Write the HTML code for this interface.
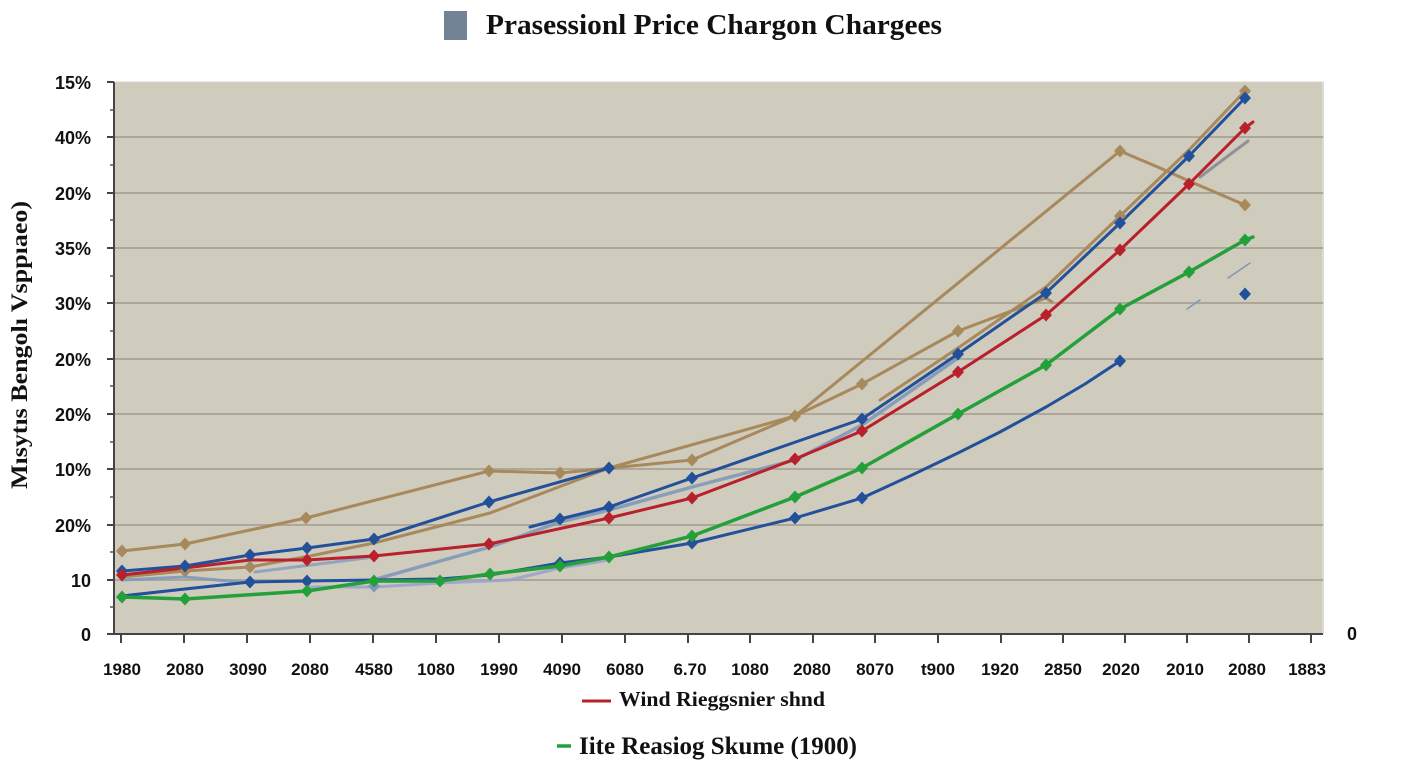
<!DOCTYPE html>
<html>
<head>
<meta charset="utf-8">
<style>
html,body{margin:0;padding:0;background:#fff;}
svg{display:block;}
.yl{font-family:"Liberation Sans",sans-serif;font-weight:bold;font-size:18px;fill:#111;text-anchor:end;}
.xl{font-family:"Liberation Sans",sans-serif;font-weight:bold;font-size:17px;fill:#111;text-anchor:middle;}
.ser{font-family:"Liberation Serif",serif;font-weight:bold;fill:#111;}
</style>
</head>
<body>
<svg width="1408" height="768" viewBox="0 0 1408 768" xmlns="http://www.w3.org/2000/svg">
<defs>
<path id="dm" d="M0,-6.5 L6,0 L0,6.5 L-6,0Z"/>
</defs>
<rect x="0" y="0" width="1408" height="768" fill="#ffffff"/>

<!-- title -->
<rect x="444" y="11" width="23" height="29" fill="#718395"/>
<text class="ser" x="486" y="34" font-size="29" textLength="456" lengthAdjust="spacingAndGlyphs">Prasessionl Price Chargon Chargees</text>

<!-- plot background -->
<rect x="114" y="82" width="1209" height="552" fill="#cfcbbd"/>
<line x1="1323" y1="82" x2="1323" y2="634" stroke="#dedbd1" stroke-width="2"/>
<line x1="114" y1="82" x2="1323" y2="82" stroke="#d8d5ca" stroke-width="1"/>

<!-- gridlines -->
<g stroke="#aca79a" stroke-width="2">
<line x1="114" y1="137" x2="1323" y2="137"/>
<line x1="114" y1="193" x2="1323" y2="193"/>
<line x1="114" y1="248" x2="1323" y2="248"/>
<line x1="114" y1="303" x2="1323" y2="303"/>
<line x1="114" y1="359" x2="1323" y2="359"/>
<line x1="114" y1="414" x2="1323" y2="414"/>
<line x1="114" y1="469" x2="1323" y2="469"/>
<line x1="114" y1="525" x2="1323" y2="525"/>
<line x1="114" y1="580" x2="1323" y2="580"/>
</g>

<!-- axes -->
<line x1="114" y1="82" x2="114" y2="635" stroke="#444" stroke-width="2"/>
<line x1="113" y1="634" x2="1323" y2="634" stroke="#444" stroke-width="2"/>
<g stroke="#444" stroke-width="2">
<line x1="107" y1="82" x2="114" y2="82"/>
<line x1="107" y1="137" x2="114" y2="137"/>
<line x1="107" y1="193" x2="114" y2="193"/>
<line x1="107" y1="248" x2="114" y2="248"/>
<line x1="107" y1="303" x2="114" y2="303"/>
<line x1="107" y1="359" x2="114" y2="359"/>
<line x1="107" y1="414" x2="114" y2="414"/>
<line x1="107" y1="469" x2="114" y2="469"/>
<line x1="107" y1="525" x2="114" y2="525"/>
<line x1="107" y1="580" x2="114" y2="580"/>
<line x1="107" y1="634" x2="114" y2="634"/>
</g>
<g stroke="#555" stroke-width="1.5">
<line x1="110" y1="110" x2="114" y2="110"/>
<line x1="110" y1="165" x2="114" y2="165"/>
<line x1="110" y1="220" x2="114" y2="220"/>
<line x1="110" y1="276" x2="114" y2="276"/>
<line x1="110" y1="331" x2="114" y2="331"/>
<line x1="110" y1="386" x2="114" y2="386"/>
<line x1="110" y1="442" x2="114" y2="442"/>
<line x1="110" y1="497" x2="114" y2="497"/>
<line x1="110" y1="552" x2="114" y2="552"/>
<line x1="110" y1="607" x2="114" y2="607"/>
</g>
<g stroke="#444" stroke-width="2">
<line x1="121" y1="634" x2="121" y2="643"/>
<line x1="184" y1="634" x2="184" y2="643"/>
<line x1="247" y1="634" x2="247" y2="643"/>
<line x1="310" y1="634" x2="310" y2="643"/>
<line x1="373" y1="634" x2="373" y2="643"/>
<line x1="436" y1="634" x2="436" y2="643"/>
<line x1="499" y1="634" x2="499" y2="643"/>
<line x1="562" y1="634" x2="562" y2="643"/>
<line x1="625" y1="634" x2="625" y2="643"/>
<line x1="688" y1="634" x2="688" y2="643"/>
<line x1="750" y1="634" x2="750" y2="643"/>
<line x1="813" y1="634" x2="813" y2="643"/>
<line x1="875" y1="634" x2="875" y2="643"/>
<line x1="938" y1="634" x2="938" y2="643"/>
<line x1="1001" y1="634" x2="1001" y2="643"/>
<line x1="1063" y1="634" x2="1063" y2="643"/>
<line x1="1125" y1="634" x2="1125" y2="643"/>
<line x1="1187" y1="634" x2="1187" y2="643"/>
<line x1="1249" y1="634" x2="1249" y2="643"/>
<line x1="1311" y1="634" x2="1311" y2="643"/>
</g>

<!-- y labels -->
<text class="yl" x="91" y="89">15%</text>
<text class="yl" x="91" y="144">40%</text>
<text class="yl" x="91" y="200">20%</text>
<text class="yl" x="91" y="255">35%</text>
<text class="yl" x="91" y="310">30%</text>
<text class="yl" x="91" y="366">20%</text>
<text class="yl" x="91" y="421">20%</text>
<text class="yl" x="91" y="476">10%</text>
<text class="yl" x="91" y="532">20%</text>
<text class="yl" x="91" y="587">10</text>
<text class="yl" x="91" y="641">0</text>
<text class="yl" x="1357" y="640">0</text>

<!-- x labels -->
<g class="xl">
<text x="122" y="675">1980</text>
<text x="185" y="675">2080</text>
<text x="248" y="675">3090</text>
<text x="310" y="675">2080</text>
<text x="374" y="675">4580</text>
<text x="436" y="675">1080</text>
<text x="499" y="675">1990</text>
<text x="562" y="675">4090</text>
<text x="625" y="675">6080</text>
<text x="690" y="675">6.70</text>
<text x="750" y="675">1080</text>
<text x="812" y="675">2080</text>
<text x="875" y="675">8070</text>
<text x="938" y="675">t900</text>
<text x="1000" y="675">1920</text>
<text x="1063" y="675">2850</text>
<text x="1121" y="675">2020</text>
<text x="1185" y="675">2010</text>
<text x="1247" y="675">2080</text>
<text x="1307" y="675">1883</text>
</g>

<!-- y axis title -->
<text class="ser" font-size="23" transform="translate(27,345) rotate(-90)" text-anchor="middle" textLength="288" lengthAdjust="spacingAndGlyphs">Mısytıs Bengolı Vsppıaeo)</text>

<!-- series -->
<g fill="none" stroke-linejoin="round" stroke-linecap="round">
<!-- steel light lines -->
<polyline stroke="#7f98b8" stroke-width="3" opacity="0.9" points="122,580 185,577 250,583"/>
<polyline stroke="#8aa1c0" stroke-width="3" opacity="0.9" points="255,572 374,557"/>
<polyline stroke="#7f98b8" stroke-width="3.5" opacity="0.9" points="373,580 490,547 560,522 609,510 692,487 795,460 862,425 958,358"/>
<polyline stroke="#9aa3cc" stroke-width="3" opacity="0.9" points="310,587 374,587 440,583 510,580 560,568 609,560"/>
<polyline stroke="#8e9297" stroke-width="3" points="1200,177 1248,141"/>
<polyline stroke="#7f98b8" stroke-width="1.5" points="1187,309 1200,300"/>
<polyline stroke="#7f98b8" stroke-width="1.5" points="1228,278 1250,263"/>

<!-- tan lines -->
<polyline stroke="#a8895c" stroke-width="3" points="122,551 185,544 306,518 489,471 560,473 692,460 795,416 1120,151 1160,168 1189,181 1245,205"/>
<polyline stroke="#a8895c" stroke-width="3" points="122,577 185,571 250,567 310,556 374,543 490,513 609,468 795,416 862,384 958,331 1046,298 1052,302"/>
<polyline stroke="#a8895c" stroke-width="3" points="880,400 958,348 1046,287 1120,216 1189,150 1245,91"/>

<!-- blue lines -->
<polyline stroke="#23509a" stroke-width="3" points="122,571 185,566 250,555 307,548 374,539 489,502 609,468"/>
<polyline stroke="#23509a" stroke-width="3" points="530,527 560,519 609,507 692,478 862,419 958,354 1046,293 1120,223 1189,156 1245,98"/>
<polyline stroke="#23509a" stroke-width="3" points="122,596 185,589 250,582 307,581 374,580 440,579 490,575 560,563 609,557 692,543 795,518 862,498 910,476 958,453 1000,432 1046,407 1085,384 1120,361"/>

<!-- red -->
<polyline stroke="#b8202c" stroke-width="3" points="122,575 185,568 250,560 307,560 374,556 489,544 609,518 692,498 795,459 862,431 958,372 1046,315 1120,250 1189,184 1245,128 1253,122"/>

<!-- green -->
<polyline stroke="#24a03a" stroke-width="3.5" points="122,597 185,599 307,591 374,581 440,581 490,574 560,566 609,557 692,536 795,497 862,468 958,414 1046,365 1120,309 1189,272 1245,240 1253,237"/>
</g>

<!-- markers -->
<g fill="#a8895c">
<use href="#dm" x="122" y="551"/><use href="#dm" x="185" y="544"/><use href="#dm" x="306" y="518"/>
<use href="#dm" x="489" y="471"/><use href="#dm" x="560" y="473"/><use href="#dm" x="692" y="460"/>
<use href="#dm" x="795" y="416"/><use href="#dm" x="1120" y="151"/><use href="#dm" x="1245" y="205"/>
<use href="#dm" x="185" y="571"/><use href="#dm" x="250" y="567"/><use href="#dm" x="862" y="384"/>
<use href="#dm" x="958" y="331"/><use href="#dm" x="1120" y="216"/><use href="#dm" x="1245" y="91"/>
</g>
<g fill="#23509a">
<use href="#dm" x="122" y="571"/><use href="#dm" x="185" y="566"/><use href="#dm" x="250" y="555"/>
<use href="#dm" x="307" y="548"/><use href="#dm" x="374" y="539"/><use href="#dm" x="489" y="502"/>
<use href="#dm" x="609" y="468"/>
<use href="#dm" x="560" y="519"/><use href="#dm" x="609" y="507"/><use href="#dm" x="692" y="478"/>
<use href="#dm" x="862" y="419"/><use href="#dm" x="958" y="354"/><use href="#dm" x="1046" y="293"/>
<use href="#dm" x="1120" y="223"/><use href="#dm" x="1189" y="156"/><use href="#dm" x="1245" y="98"/>
<use href="#dm" x="250" y="582"/><use href="#dm" x="307" y="581"/><use href="#dm" x="560" y="563"/>
<use href="#dm" x="692" y="543"/><use href="#dm" x="795" y="518"/><use href="#dm" x="862" y="498"/>
<use href="#dm" x="1120" y="361"/><use href="#dm" x="1245" y="294"/>
</g>
<g fill="#7f98b8">
<use href="#dm" x="374" y="586"/>
</g>
<g fill="#b8202c">
<use href="#dm" x="122" y="575"/><use href="#dm" x="307" y="560"/><use href="#dm" x="374" y="556"/>
<use href="#dm" x="489" y="544"/><use href="#dm" x="609" y="518"/><use href="#dm" x="692" y="498"/>
<use href="#dm" x="795" y="459"/><use href="#dm" x="862" y="431"/><use href="#dm" x="958" y="372"/>
<use href="#dm" x="1046" y="315"/><use href="#dm" x="1120" y="250"/><use href="#dm" x="1189" y="184"/>
<use href="#dm" x="1245" y="128"/>
</g>
<g fill="#24a03a">
<use href="#dm" x="122" y="597"/><use href="#dm" x="185" y="599"/><use href="#dm" x="307" y="591"/>
<use href="#dm" x="374" y="581"/><use href="#dm" x="440" y="581"/><use href="#dm" x="490" y="574"/>
<use href="#dm" x="560" y="566"/><use href="#dm" x="609" y="557"/><use href="#dm" x="692" y="536"/>
<use href="#dm" x="795" y="497"/><use href="#dm" x="862" y="468"/><use href="#dm" x="958" y="414"/>
<use href="#dm" x="1046" y="365"/><use href="#dm" x="1120" y="309"/><use href="#dm" x="1189" y="272"/>
<use href="#dm" x="1245" y="240"/>
</g>

<!-- legend -->
<line x1="582" y1="701" x2="611" y2="701" stroke="#b8202c" stroke-width="3"/>
<text class="ser" x="619" y="706" font-size="21" textLength="206" lengthAdjust="spacingAndGlyphs">Wind Rieggsnier shnd</text>
<line x1="557" y1="746" x2="571" y2="746" stroke="#24a03a" stroke-width="3.5"/>
<text class="ser" x="579" y="754" font-size="25" textLength="278" lengthAdjust="spacingAndGlyphs">Iite Reasiog Skume (1900)</text>
</svg>
</body>
</html>
